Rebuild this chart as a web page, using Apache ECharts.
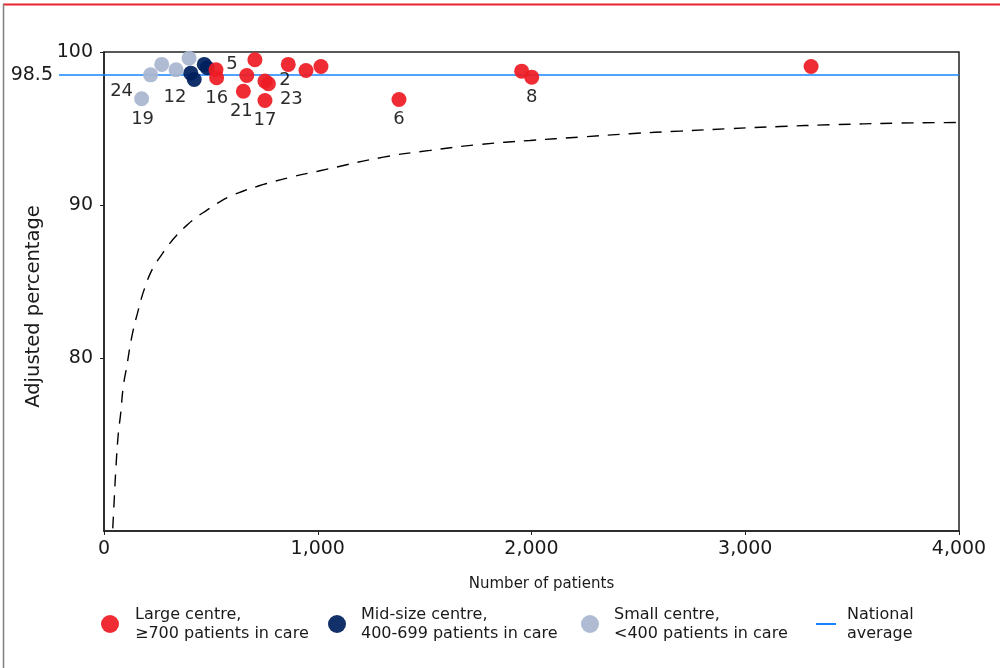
<!DOCTYPE html>
<html>
<head>
<meta charset="utf-8">
<script src="https://cdn.jsdelivr.net/npm/echarts@6/dist/echarts.min.js"></script>
<style>
  html, body { margin: 0; padding: 0; background: #ffffff; }
  #chart { width: 1000px; height: 668px; }
</style>
</head>
<body>
<div id="chart"></div>
<script>
// Centres: [number of patients, adjusted percentage, centre id ('' = unlabelled)]
const largeCentres = [
  [524, 98.84, '5'], [527, 98.32, '16'], [652, 97.44, '21'], [668, 98.47, ''],
  [706, 99.49, ''], [753, 98.10, '2'], [769, 97.93, '23'], [753, 96.84, '17'],
  [862, 99.19, ''], [945, 98.79, ''], [1015, 99.05, ''], [1380, 96.90, '6'],
  [1954, 98.75, ''], [2001, 98.36, '8'], [3308, 99.05, '']
];
const midCentres = [
  [406, 98.62, ''], [422, 98.21, ''], [469, 99.19, ''], [483, 98.97, '']
];
const smallCentres = [
  [176, 96.95, '19'], [218, 98.51, '24'], [270, 99.19, ''], [337, 98.84, '12'], [398, 99.60, '']
];

// Lower control limit (dashed funnel line): [number of patients, percentage]
const controlLimit = [
  [41, 68.92], [47, 70.55], [56, 72.93], [67, 75.11], [78, 76.41], [90, 78.15],
  [106, 79.45], [130, 81.41], [156, 82.93], [192, 84.67], [231, 85.97], [262, 86.62],
  [301, 87.39], [340, 88.04], [387, 88.69], [434, 89.23], [480, 89.67], [527, 90.10],
  [589, 90.58], [652, 90.93], [714, 91.22], [761, 91.42], [870, 91.82], [1000, 92.22],
  [1307, 93.14], [1525, 93.58], [1759, 93.97], [1993, 94.23], [2227, 94.45], [2461, 94.67],
  [2695, 94.84], [2929, 95.00], [3163, 95.14], [3396, 95.25], [3708, 95.36], [4000, 95.40]
];

const nationalAverage = 98.5;
const xMin = 0, xMax = 4000, xTickInterval = 1000;
const yMin = 68.75, yMax = 100;
const yTickValues = [80, 90, 100];

const seriesNames = [
  'Large centre,\n≥700 patients in care',
  'Mid-size centre,\n400-699 patients in care',
  'Small centre,\n<400 patients in care',
  'National\naverage'
];

// Where each centre id sits relative to its dot (pixels)
const labelOffsets = {
  '5': [16, -5], '16': [0, 21], '21': [-2, 20], '2': [20, -1], '23': [23, 16],
  '17': [0, 20], '6': [0, 20], '8': [0, 20], '19': [1, 21], '24': [-29, 16], '12': [-1, 28]
};

const FONT = 'DejaVu Sans';
const INK = '#1a1a1a';
const AVG_BLUE = '#1485ff';

function toPoints(rows) {
  return rows.map(function (r) {
    const id = r[2];
    return {
      value: [r[0], r[1]],
      label: id ? {
        show: true,
        formatter: id,
        position: 'inside',
        offset: labelOffsets[id] || [0, 20],
        color: INK,
        fontSize: 18,
        fontFamily: FONT,
        textBorderWidth: 0
      } : { show: false }
    };
  });
}

function scatterSeries(name, rows, color, z) {
  return {
    name: name,
    type: 'scatter',
    data: toPoints(rows),
    symbol: 'circle',
    symbolSize: 15,
    itemStyle: { color: color, opacity: 0.93 },
    emphasis: { disabled: true },
    silent: true,
    z: z
  };
}

function legendFor(name, left, width, padLeft, icon) {
  const item = { name: name };
  if (icon) item.icon = icon;
  return {
    data: [item],
    left: left,
    top: 595.5,
    padding: 0,
    itemWidth: width,
    itemHeight: 18,
    selectedMode: false,
    textStyle: {
      fontFamily: FONT,
      fontSize: 16,
      lineHeight: 19,
      color: INK,
      padding: [19, 0, 0, padLeft]
    }
  };
}

const chart = echarts.init(document.getElementById('chart'), null, { renderer: 'canvas' });

chart.setOption({
  animation: false,
  backgroundColor: '#ffffff',
  textStyle: { fontFamily: FONT },
  grid: {
    left: 104, right: 41, top: 52, bottom: 137,
    show: true, borderColor: '#222', borderWidth: 1.5, backgroundColor: 'transparent'
  },
  xAxis: {
    type: 'value',
    min: xMin, max: xMax, interval: xTickInterval,
    name: 'Number of patients',
    nameLocation: 'middle',
    nameGap: 46,
    nameTextStyle: { fontFamily: FONT, fontSize: 15, color: INK, padding: [0, 0, 0, 20] },
    splitLine: { show: false },
    axisLine: { lineStyle: { color: '#222', width: 1.5 } },
    axisTick: { show: true, length: 4, lineStyle: { color: '#222', width: 1 } },
    axisLabel: {
      fontFamily: FONT, fontSize: 19, color: INK, margin: 9,
      formatter: function (v) { return v.toLocaleString('en-US'); }
    }
  },
  yAxis: [
    {
      type: 'value',
      min: yMin, max: yMax,
      name: 'Adjusted percentage',
      nameLocation: 'middle',
      nameGap: 60,
      nameTextStyle: { fontFamily: FONT, fontSize: 19.5, color: INK, padding: [0, 30, 0, 0] },
      splitLine: { show: false },
      axisLine: { show: true, lineStyle: { color: '#222', width: 1.5 } },
      axisTick: { show: true, length: 4, customValues: yTickValues, lineStyle: { color: '#222', width: 1 } },
      axisLabel: { fontFamily: FONT, fontSize: 19, color: INK, margin: 11, customValues: yTickValues }
    },
    {
      // National average marker on the left: long blue tick plus its value
      type: 'value',
      position: 'left',
      offset: 0,
      min: yMin, max: yMax,
      splitLine: { show: false },
      axisLine: { show: false },
      axisTick: { show: true, length: 45, customValues: [nationalAverage], lineStyle: { color: AVG_BLUE, width: 1.5 } },
      axisLabel: { fontFamily: FONT, fontSize: 19, color: INK, margin: 51, customValues: [nationalAverage] }
    }
  ],
  legend: [
    legendFor(seriesNames[0], 101, 18, 11),
    legendFor(seriesNames[1], 328, 18, 10),
    legendFor(seriesNames[2], 581, 18, 10),
    legendFor(seriesNames[3], 816, 20, 6, 'path://M0,0H20V2H0Z')
  ],
  series: [
    {
      name: 'Control limit',
      type: 'line',
      data: controlLimit,
      smooth: true,
      symbol: 'none',
      silent: true,
      lineStyle: { color: '#000', width: 1.4, type: [12, 9] },
      z: 1
    },
    {
      name: seriesNames[3],
      type: 'line',
      data: [[xMin, nationalAverage], [xMax, nationalAverage]],
      symbol: 'none',
      silent: true,
      color: AVG_BLUE,
      lineStyle: { color: AVG_BLUE, width: 1.5 },
      z: 2
    },
    scatterSeries(seriesNames[2], smallCentres, '#a8b6cf', 3),
    scatterSeries(seriesNames[1], midCentres, '#00205e', 4),
    scatterSeries(seriesNames[0], largeCentres, '#ee1c25', 5)
  ],
  graphic: [
    { type: 'line', silent: true, shape: { x1: 3, y1: 4.5, x2: 1000, y2: 4.5 }, style: { stroke: '#e8262d', lineWidth: 2 } },
    { type: 'line', silent: true, shape: { x1: 3.5, y1: 4, x2: 3.5, y2: 668 }, style: { stroke: '#808080', lineWidth: 1.5 } }
  ]
});
</script>
</body>
</html>
